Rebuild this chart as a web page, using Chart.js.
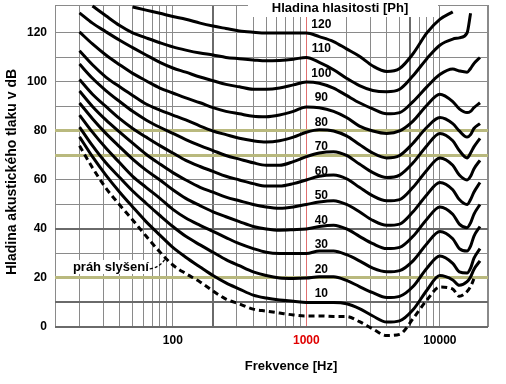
<!DOCTYPE html>
<html>
<head>
<meta charset="utf-8">
<script src="https://cdn.jsdelivr.net/npm/chart.js@4.4.1/dist/chart.umd.min.js"></script>
<style>
  html, body { margin: 0; padding: 0; background: #fff; }
  #wrap { width: 506px; height: 384px; }
</style>
</head>
<body>
<div id="wrap"><canvas id="graf" width="506" height="384"></canvas></div>
<script>
// frekvence [Hz] - spolecna osa pro vsechny krivky
const frekvence = [20, 25, 31.5, 40, 50, 63, 80, 100, 125, 160, 200, 250, 315, 400, 500, 630, 800, 1000,
  1250, 1600, 2000, 2500, 3150, 4000, 5000, 6300, 8000, 10000, 12500, 14000, 16000, 17000, 18000, 20000];

// hladiny akustickeho tlaku [dB] (null = krivka tam neni)
const prah = [74, 65, 56.7, 49.8, 43.7, 37.1, 30.6, 25.3, 21.8, 18.4, 14.7, 11.4, 9.4, 7.3, 6.5, 5.7, 4.9, 4.5,
  4.5, 4.3, 4.3, 2.2, -0.8, -3.5, -3, 3.4, 11, 16.3, 15.5, 12.5, 14.5, 16.5, 19.6, null];
const ph10 = [77.6, 69.5, 62, 55, 49, 43, 37.5, 32.5, 28.5, 24.5, 21, 18, 15.5, 13, 11.8, 11, 10.5, 10,
  10, 10, 9.5, 7.5, 4.5, 2, 2.5, 7, 15, 21, 19.2, 17, 18.5, 20.4, 23.5, 27];
const ph20 = [81.6, 74, 67, 61, 55.5, 50.5, 45.5, 41, 37, 33.5, 30.5, 27.5, 25, 22.5, 21, 20, 19.8, 20,
  20.5, 20.5, 19, 16.5, 14, 12, 12.5, 16.5, 24, 29, 26, 22.5, 22, 24, 28, 32];
const ph30 = [86.5, 79.5, 73, 67, 61.5, 57, 52.5, 48, 44.5, 41.5, 39, 36.5, 34, 32, 30.5, 30, 30, 30,
  31, 31, 29.5, 27, 24, 22.5, 23, 27, 34, 39, 36, 32, 31, 33, 37, 41];
const ph40 = [91.4, 85, 79, 73.5, 68.5, 64, 60, 56, 52.5, 49.5, 47, 45, 43, 41, 40, 39.5, 39.7, 40,
  41, 41.5, 40, 37, 34, 32, 32.5, 37, 44, 49, 46, 42, 40.5, 42.5, 46, 50];
const ph50 = [96.3, 90, 84.5, 79.5, 75, 70.5, 66.5, 63, 60, 57, 55, 53, 51.5, 50, 49, 48.5, 49, 50,
  51, 51.5, 50, 47, 43.5, 41.5, 42, 47, 54, 59, 56, 52, 50, 52, 55, 59];
const ph60 = [101, 95, 90, 85, 81, 77.5, 74, 71, 68, 65.5, 63.5, 61.5, 60, 58.5, 57.5, 57.5, 58.5, 60,
  61.5, 62, 60.5, 57, 53.5, 51.5, 52, 57, 64, 69, 66, 62, 60, 61.5, 64.5, 68];
const ph70 = [107.3, 101.5, 96.5, 92, 88, 84.5, 81.5, 79, 76.5, 74, 72, 70, 68.5, 67, 66, 66, 67.5, 69.5,
  71, 71.5, 70, 66.5, 63, 61, 62, 67, 74, 79, 76, 72, 69, 71, 73.5, 77];
const ph80 = [112.7, 107, 102, 98, 94.5, 91, 88.5, 86.5, 84.5, 82, 80, 78.5, 77, 76, 75.5, 76, 77.5, 79.5,
  80.5, 80, 78, 74.5, 71, 69, 70, 75, 81.5, 85.5, 83, 80, 77.5, 78.5, 81, 83];
const ph90 = [120.4, 115.5, 111, 107, 103.5, 100.5, 97.5, 95.5, 93.5, 91.5, 89.5, 88, 87, 86, 85.8, 86.5, 88, 89.8,
  89.5, 88, 85.5, 82, 80, 79, 80, 84, 90.5, 95, 92, 89, 87.5, 88, 89.5, 91.5];
const ph100 = [128.2, 124, 120.5, 117, 114, 111, 108, 105.7, 104, 102, 100.5, 99, 98, 97, 97, 97.5, 98.8, 100,
  99.5, 97.5, 94.5, 91.5, 89, 87, 87.5, 92, 98, 103, 105.3, 104.5, 104, 105.5, 107.5, 110];
const ph110 = [null, 131, 127, 123, 120, 118, 116, 114.3, 113, 111.8, 111, 110, 109.5, 109, 108.6, 108.8, 109.3, 110,
  108, 105, 101.5, 98.5, 96.5, 96, 97, 102.5, 109.5, 115, 117.5, 118, 120, 128, null, null];
const ph120 = [null, null, null, null, 130.6, 129.3, 128, 126.7, 125.6, 124, 122.8, 121.8, 120.8, 120.3, 120, 120, 120, 120,
  118.5, 116.5, 113.5, 110.5, 106.5, 104.3, 105.5, 111.5, 120, 125.5, 128.6, null, null, null, null, null];

const hladiny = [120, 110, 100, 90, 80, 70, 60, 50, 40, 30, 20, 10];
const krivky = [ph120, ph110, ph100, ph90, ph80, ph70, ph60, ph50, ph40, ph30, ph20, ph10];

// popisky os
const xPopisky = [100, 1000, 10000];
const yPopisky = [0, 20, 40, 60, 80, 100, 120];
const xMrizka = [13.1, 20, 30, 40, 50, 60, 70, 80, 90, 100, 200, 300, 400, 500, 600, 700, 800, 900,
  1000, 2000, 3000, 4000, 5000, 6000, 7000, 8000, 9000, 10000, 22960];
const yMrizka = [0, 10, 20, 30, 40, 50, 60, 70, 80, 90, 100, 110, 120, 131.4];

const body = (hodnoty) => frekvence
  .map((f, i) => ({ x: f, y: hodnoty[i] }))
  .filter(p => p.y !== null);

const datasets = krivky.map(k => ({
  data: body(k),
  borderColor: '#000',
  borderWidth: 3,
  pointRadius: 0,
  cubicInterpolationMode: 'monotone',
  clip: false
}));
datasets.push({
  data: body(prah),
  borderColor: '#000',
  borderWidth: 3,
  borderDash: [6, 4],
  pointRadius: 0,
  cubicInterpolationMode: 'monotone',
  clip: false
});

const pismo = '"Liberation Sans", Arial, sans-serif';

// texty mimo osy: nadpis, popisy os, cisla krivek, prah slyseni
const popisky = {
  id: 'popisky',
  afterDatasetsDraw(chart) {
    const { ctx, scales: { x, y } } = chart;
    ctx.save();
    ctx.fillStyle = '#000';

    // cisla hladin u krivek
    ctx.font = 'bold 12px ' + pismo;
    ctx.textAlign = 'center';
    ctx.textBaseline = 'middle';
    const lx = x.getPixelForValue(1000) + 15;
    hladiny.forEach(h => ctx.fillText(String(h), lx, y.getPixelForValue(h + 3.4)));

    // prah slyseni
    ctx.font = 'bold 13px ' + pismo;
    const tx = x.getPixelForValue(66);
    const ty = y.getPixelForValue(24.5);
    const sirka = ctx.measureText('práh slyšení').width;
    ctx.fillStyle = '#fff';
    ctx.fillRect(tx - sirka - 2, ty - 7, sirka + 3, 14);
    ctx.fillStyle = '#000';
    ctx.textAlign = 'right';
    ctx.fillText('práh slyšení', tx, ty);
    ctx.lineWidth = 1.3;
    ctx.setLineDash([3, 2]);
    ctx.beginPath();
    ctx.moveTo(tx + 1, ty + 2);
    ctx.quadraticCurveTo(tx + 12, ty, x.getPixelForValue(88), y.getPixelForValue(28));
    ctx.stroke();
    ctx.setLineDash([]);

    // nadpis
    ctx.fillStyle = '#fff';
    ctx.fillRect(248, 0, 190, 17);
    ctx.fillStyle = '#000';
    ctx.font = 'bold 13px ' + pismo;
    ctx.textAlign = 'center';
    ctx.fillText('Hladina hlasitosti [Ph]', 340, 8);

    // popis osy x
    ctx.fillText('Frekvence [Hz]', 291, 366);

    // popis osy y
    ctx.font = 'bold 14px ' + pismo;
    ctx.translate(12, 172);
    ctx.rotate(-Math.PI / 2);
    ctx.fillText('Hladina akustického tlaku v dB', 0, 0);
    ctx.restore();
  }
};

new Chart(document.getElementById('graf'), {
  type: 'line',
  data: { datasets },
  options: {
    responsive: false,
    animation: false,
    layout: { padding: { left: 0, right: 18, top: 5, bottom: 0 } },
    plugins: { legend: { display: false }, tooltip: { enabled: false } },
    scales: {
      x: {
        type: 'logarithmic',
        min: 13.1,
        max: 22960,
        afterBuildTicks: s => { s.ticks = xMrizka.map(v => ({ value: v })); },
        afterFit: s => { s.height = 57; s.paddingLeft = 0; s.paddingRight = 0; },
        border: { display: false },
        grid: {
          drawTicks: false,
          color: c => {
            const v = c.tick.value;
            if (v === 1000) return '#e07070';
            if (v === 200 || v === 6000) return '#6a6a6a';
            return '#8a8a8a';
          },
          lineWidth: c => {
            const v = c.tick.value;
            if (v === 200 || v === 6000 || v === 22960) return 2;
            return 1;
          }
        },
        ticks: {
          autoSkip: false,
          maxRotation: 0,
          padding: 6,
          font: { family: pismo, size: 12, weight: 'bold' },
          color: c => (c.tick.value === 1000 ? '#e00000' : '#000'),
          callback: v => (xPopisky.includes(v) ? String(v) : '')
        }
      },
      y: {
        min: 0,
        max: 131.4,
        afterBuildTicks: s => { s.ticks = yMrizka.map(v => ({ value: v })); },
        afterFit: s => { s.width = 55; s.paddingTop = 0; s.paddingBottom = 0; },
        border: { display: false },
        grid: {
          drawTicks: false,
          color: c => {
            const v = c.tick.value;
            if (v === 20 || v === 70 || v === 80) return '#b9b97e';
            if (v === 0 || v === 10 || v === 40) return '#6a6a6a';
            return '#8a8a8a';
          },
          lineWidth: c => {
            const v = c.tick.value;
            if (v === 20 || v === 70 || v === 80) return 3;
            if (v === 0 || v === 10 || v === 40) return 2;
            return 1;
          }
        },
        ticks: {
          padding: 8,
          font: { family: pismo, size: 12, weight: 'bold' },
          color: '#000',
          callback: v => (yPopisky.includes(v) ? String(v) : '')
        }
      }
    }
  },
  plugins: [popisky]
});
</script>
</body>
</html>
